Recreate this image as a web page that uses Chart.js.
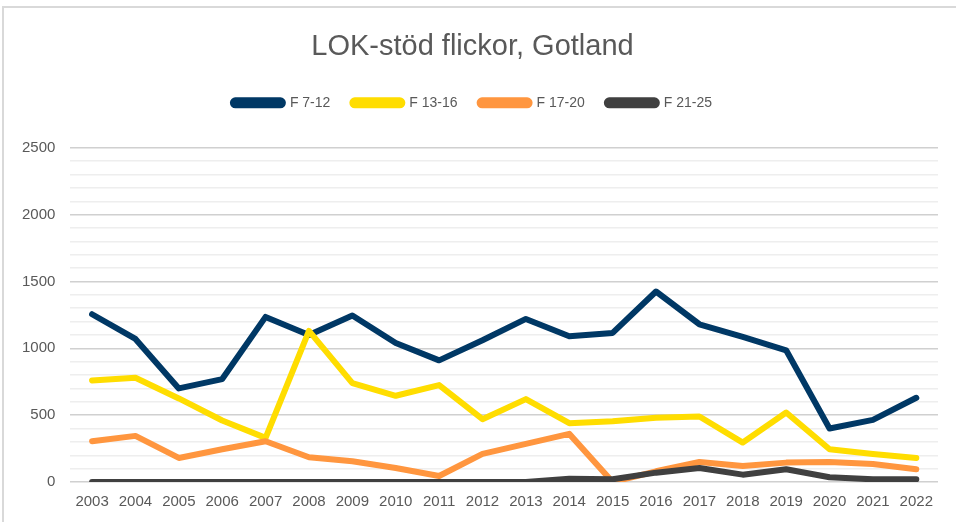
<!DOCTYPE html>
<html>
<head>
<meta charset="utf-8">
<script src="https://cdn.jsdelivr.net/npm/chart.js@4"></script>
<style>
  html, body { margin: 0; padding: 0; background: #fff; overflow: hidden; }
  #frame { position: absolute; left: 2px; top: 6px; width: 1200px; height: 1200px;
           border-left: 2px solid #d9d9d9; border-top: 2px solid #d9d9d9; }
  #wrap { position: absolute; left: 0; top: 0; width: 956px; height: 522px; }
</style>
</head>
<body>
<div id="frame"></div>
<div id="wrap"><canvas id="myChart"></canvas></div>
<script>
    const years = ['2003', '2004', '2005', '2006', '2007', '2008', '2009', '2010', '2011', '2012',
                   '2013', '2014', '2015', '2016', '2017', '2018', '2019', '2020', '2021', '2022'];

    const f7_12  = [1255, 1070, 700, 770, 1235, 1100, 1245, 1040, 910, 1060,
                    1220, 1090, 1115, 1425, 1180, 1085, 985, 400, 465, 630];
    const f13_16 = [760, 780, 625, 460, 330, 1130, 740, 645, 725, 470,
                    620, 440, 455, 480, 490, 295, 520, 245, 210, 180];
    const f17_20 = [305, 345, 180, 245, 305, 185, 155, 105, 45, 210,
                    285, 360, 0, 80, 150, 120, 145, 150, 135, 95];
    const f21_25 = [0, 0, 0, 0, 0, 0, 0, 0, 0, 0,
                    0, 25, 20, 70, 105, 55, 95, 35, 20, 20];

    const yTicks = [0, 500, 1000, 1500, 2000, 2500];

    const textColor = '#595959';

    // Excel draws later series on top, so reverse the drawing order
    const dataLine = {
        labels: years,
        datasets: [
            { label: 'F 7-12',  data: f7_12,  borderColor: '#003865', backgroundColor: '#003865', order: 4 },
            { label: 'F 13-16', data: f13_16, borderColor: '#ffdd00', backgroundColor: '#ffdd00', order: 3 },
            { label: 'F 17-20', data: f17_20, borderColor: '#ff963f', backgroundColor: '#ff963f', order: 2 },
            { label: 'F 21-25', data: f21_25, borderColor: '#404040', backgroundColor: '#404040', order: 1 }
        ].map(ds => Object.assign(ds, {
            borderWidth: 6,
            pointRadius: 0,
            tension: 0,
            borderCapStyle: 'round',
            borderJoinStyle: 'round'
        }))
    };

    // extra space under the legend
    const legendMargin = {
        id: 'legendMargin',
        beforeInit(chart) {
            const fit = chart.legend.fit;
            chart.legend.fit = function () {
                fit.bind(chart.legend)();
                this.height += 28;
            };
        }
    };

    const configLine = {
        type: 'line',
        data: dataLine,
        plugins: [legendMargin],
        options: {
            responsive: true,
            maintainAspectRatio: false,
            animation: false,
            layout: { padding: { left: 7, right: 18, top: 18, bottom: 0 } },
            plugins: {
                title: {
                    display: true,
                    text: 'LOK-stöd flickor, Gotland',
                    color: textColor,
                    font: { family: 'Liberation Sans, Arial', size: 29, weight: 'normal' },
                    padding: { top: 12, bottom: 9 }
                },
                legend: {
                    position: 'top',
                    labels: {
                        color: textColor,
                        font: { family: 'Liberation Sans, Arial', size: 14 },
                        boxWidth: 50,
                        boxHeight: 5,
                        padding: 22,
                        useBorderRadius: true,
                        borderRadius: 2.5,
                        sort: (a, b) => a.datasetIndex - b.datasetIndex
                    }
                },
                tooltip: { enabled: false }
            },
            scales: {
                x: {
                    offset: true,
                    grid: { display: false, drawTicks: false },
                    border: { display: false },
                    ticks: {
                        color: textColor,
                        font: { family: 'Liberation Sans, Arial', size: 15 },
                        padding: 11,
                        maxRotation: 0,
                        autoSkip: false
                    }
                },
                y: {
                    min: 0,
                    max: 2500,
                    grid: {
                        drawTicks: false,
                        color: ctx => yTicks.includes(ctx.tick.value) ? '#d0d0d0' : '#eeeeee',
                        lineWidth: 1.5
                    },
                    border: { display: false },
                    ticks: {
                        stepSize: 100,
                        color: textColor,
                        font: { family: 'Liberation Sans, Arial', size: 15 },
                        padding: 15,
                        autoSkip: false,
                        callback: v => yTicks.includes(v) ? v : ''
                    }
                }
            }
        }
    };

    const myChart = new Chart(
        document.getElementById('myChart'),
        configLine
    );
</script>
</body>
</html>
